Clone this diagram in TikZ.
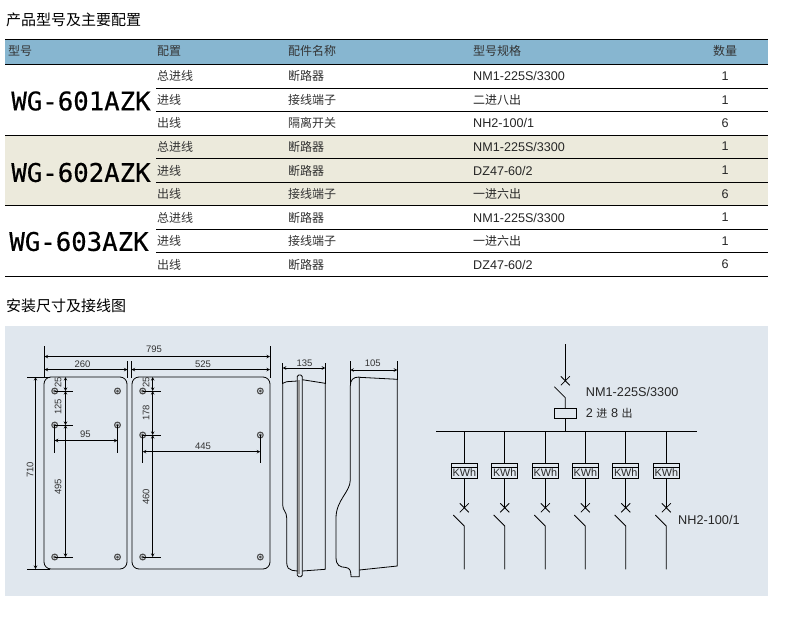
\documentclass[tikz,border=0pt]{standalone}
\usepackage{fontspec}
\setmainfont{Liberation Sans}
\newfontfamily\cjk{Noto Sans CJK SC}
\newfontfamily\modelfont[FakeBold=0.5]{DejaVu Sans Mono}
\usepackage{tikz}
\usetikzlibrary{calc}
\definecolor{headblue}{RGB}{135,182,208}
\definecolor{rowtan}{RGB}{236,234,220}
\definecolor{panelgrey}{RGB}{224,231,238}
\tikzset{
    cell/.style={anchor=west,inner sep=0pt,font=\cjk\fontsize{12}{14}\selectfont,text=black!80},
    spec/.style={anchor=west,inner sep=0pt,font=\fontsize{12.6}{14}\selectfont,text=black!85},
    num/.style={anchor=center,inner sep=0pt,font=\fontsize{12.6}{14}\selectfont,text=black!85},
    title/.style={anchor=west,inner sep=0pt,font=\cjk\fontsize{15}{17}\selectfont},
    model/.style={anchor=center,inner sep=0pt,font=\modelfont\fontsize{25.7}{28}\selectfont},
    dim/.style={inner sep=0pt,font=\fontsize{9.5}{10}\selectfont,text=black!80},
    lbl/.style={anchor=west,inner sep=0pt,font=\fontsize{12.7}{14}\selectfont,text=black!85},
    meter/.style={draw,line width=.9pt,minimum width=26pt,minimum height=15pt,inner sep=0pt},
    wire/.style={line width=.85pt},
    dimline/.style={line width=.6pt,<->,>=stealth},
    ext/.style={line width=.7pt},
    body/.style={line width=.8pt}
}
\begin{document}
\begin{tikzpicture}[x=1pt,y=-1pt]
    \useasboundingbox (0,0) rectangle (787,621);
    \fill[white] (0,0) rectangle (787,621);
    % table
    \node[title] (t1) at (6,20) {产品型号及主要配置};
    \fill[headblue] (5,40) rectangle (768,64);
    \fill[rowtan] (5,135) rectangle (768,205);
    \draw[line width=.8pt] (5,39.5) -- (768,39.5);
    \draw[line width=.8pt] (5,64) -- (768,64);
    \foreach \y in {135.3,205.3,276.3}
        \draw[line width=.8pt] (5,\y) -- (768,\y);
    \foreach \y in {88.3,111.7,158.3,182.3,229.3,252.3}
        \draw[line width=.8pt] (156,\y) -- (768,\y);
    \node[cell] (h1) at (8,51) {型号};
    \node[cell] (h2) at (157,51) {配置};
    \node[cell] (h3) at (288,51) {配件名称};
    \node[cell] (h4) at (473,51) {型号规格};
    \node[cell,anchor=center] (h5) at (725,51) {数量};
    \node[model] (m1) at (81,101) {WG-601AZK};
    \node[model] (m2) at (81,172.5) {WG-602AZK};
    \node[model] (m3) at (79,241.5) {WG-603AZK};
    \foreach \r/\y/\a/\b/\c/\n in {
        1/76/总进线/断路器/NM1-225S\slash 3300/1,
        2/100/进线/接线端子/{\cjk\fontsize{12}{14}\selectfont 二进八出}/1,
        3/123/出线/隔离开关/NH2-100\slash 1/6,
        4/146.5/总进线/断路器/NM1-225S\slash 3300/1,
        5/170.5/进线/断路器/DZ47-60\slash 2/1,
        6/194/出线/接线端子/{\cjk\fontsize{12}{14}\selectfont 一进六出}/6,
        7/217.5/总进线/断路器/NM1-225S\slash 3300/1,
        8/241/进线/接线端子/{\cjk\fontsize{12}{14}\selectfont 一进六出}/1,
        9/264.5/出线/断路器/DZ47-60\slash 2/6}{
        \node[cell] (a\r) at (157,\y) {\a};
        \node[cell] (b\r) at (288,\y) {\b};
        \node[spec] (c\r) at (473,\y) {\c};
        \node[num] (n\r) at (725,\y) {\n};
    }
    % panel
    \node[title] (t2) at (6,306) {安装尺寸及接线图};
    \fill[panelgrey] (5,326) rectangle (768,596);
    % front view
    \draw[body,rounded corners=7pt] (44,377) rectangle (127,569);
    \draw[body,rounded corners=7pt] (132,377) rectangle (270,569);
    \foreach \x/\y in {54.7/391,117.5/391,54.7/425,117.5/425,54.7/557,117.5/557,142.7/391,260.3/391,142.7/435,260.3/435,142.7/557,260.3/557}{
        \draw[black!70,line width=1.1pt] (\x,\y) circle (2.9pt);
        \fill[black!70] (\x,\y) circle (1.5pt);
    }
    \draw[ext] (44.5,346) -- (44.5,377);
    \draw[ext] (270,346) -- (270,378);
    \draw[ext] (127.5,361) -- (127.5,378);
    \draw[ext] (131.5,361) -- (131.5,378);
    \draw[dimline] (44.5,356.5) -- (270,356.5);
    \draw[dimline] (44.5,369.5) -- (127.5,369.5);
    \draw[dimline] (131.5,369.5) -- (270,369.5);
    \node[dim] (d795) at (154,349) {795};
    \node[dim] (d260) at (82.5,364) {260};
    \node[dim] (d525) at (203,364) {525};
    \draw[ext] (27,377) -- (50,377);
    \draw[ext] (27,569) -- (50,569);
    \draw[dimline] (35.5,377) -- (35.5,569);
    \node[dim,rotate=90] (d710) at (30,470) {710};
    % left box dims
    \foreach \y in {391,425,557}
        \draw[ext] (54.7,\y) -- (72.7,\y);
    \draw[ext] (54.7,425) -- (54.7,452.5);
    \draw[ext] (117.5,425) -- (117.5,452.5);
    \draw[dimline] (65.5,377) -- (65.5,391);
    \draw[dimline] (65.5,391) -- (65.5,425);
    \draw[dimline] (65.5,425) -- (65.5,557);
    \draw[dimline] (54.7,440.5) -- (117.5,440.5);
    \node[dim,rotate=90] (l25) at (58,382) {25};
    \node[dim,rotate=90] (l125) at (58,407) {125};
    \node[dim] (l95) at (85.5,434) {95};
    \node[dim,rotate=90] (l495) at (58,487) {495};
    % right box dims
    \foreach \y in {391,435,557}
        \draw[ext] (142.7,\y) -- (161,\y);
    \draw[ext] (142.7,435) -- (142.7,462.7);
    \draw[ext] (260.3,435) -- (260.3,462.7);
    \draw[dimline] (152.7,377) -- (152.7,391);
    \draw[dimline] (152.7,391) -- (152.7,435);
    \draw[dimline] (152.7,435) -- (152.7,557);
    \draw[dimline] (142.7,451.7) -- (260.3,451.7);
    \node[dim,rotate=90] (r25) at (146,382) {25};
    \node[dim,rotate=90] (r178) at (146,413) {178};
    \node[dim] (r445) at (203,446) {445};
    \node[dim,rotate=90] (r460) at (146,497) {460};
    % side views
    \draw[ext] (282.7,363) -- (282.7,384);
    \draw[ext] (325.3,363) -- (325.3,384);
    \draw[dimline] (282.7,368) -- (325.3,368);
    \node[dim] (s135) at (304.5,363.7) {135};
    \fill[black!40] (297.5,380) rectangle (299.5,574);
    \draw[body,rounded corners=1.5pt] (297.3,576.7) -- (297.3,375) -- (302.3,375) -- (302.3,576.7) -- cycle;
    \draw[body] (297.3,381) -- (286.7,381.7) -- (282.7,383.3) -- (282.7,505) .. controls (282.7,511) and (286.7,511) .. (286.7,518) -- (286.7,561) .. controls (286.7,568) and (289,570) .. (292,570.3) -- (297.3,571);
    \draw[body] (302.3,379.7) -- (325.3,383.3) -- (325.3,569.3) -- (302.3,571);
    \draw[ext] (350.3,361) -- (350.3,385);
    \draw[ext] (397.3,361) -- (397.3,380);
    \draw[dimline] (350.3,370) -- (397.3,370);
    \node[dim] (s105) at (372.7,363.3) {105};
    \draw[body] (359.3,377.3) -- (397.3,379.3) -- (397.3,566) -- (359.3,570);
    \draw[body] (359.3,377) .. controls (353,377) and (350.3,380) .. (350.3,386) -- (350.3,480) .. controls (350.3,492) and (336,500) .. (336,518) -- (336,557) .. controls (336,566) and (340,567) .. (346,567.5) .. controls (350,568) and (351,571) .. (351,576.7) -- (359.3,576.7) -- (359.3,377);
    % wiring
    \coordinate (feed) at (565.3,344.3);
    \coordinate (busl) at (436,431.3);
    \coordinate (busr) at (696.7,431.3);
    \node[draw,line width=.9pt,minimum width=22.4pt,minimum height=10pt,inner sep=0pt] (coil) at (565.5,413.3) {};
    \draw[wire] (feed) -- ($(feed)+(0,36)$);
    \draw[wire] ($(feed)+(-4.5,32)$) -- ($(feed)+(4.5,41)$) ($(feed)+(4.5,32)$) -- ($(feed)+(-4.5,41)$);
    \draw[wire] ($(feed)+(-11,42.4)$) -- ($(feed)+(0,53.4)$) -- (coil.north -| feed);
    \draw[wire] (coil.south -| feed) -- (busl -| feed);
    \draw[wire] (busl) -- (busr);
    \node[lbl] (l1) at (585.7,391.7) {NM1-225S/3300};
    \node[lbl] (l2) at (585.7,413.5) {2 {\cjk\fontsize{11}{12}\selectfont 进} 8 {\cjk\fontsize{11}{12}\selectfont 出}};
    \foreach \n/\x in {a/464.3,b/504.7,c/545.3,d/585.3,e/625.7,f/666.3}{
        \node[meter] (\n) at (\x,471) {};
        \node[inner sep=0pt,font=\fontsize{10.8}{12}\selectfont,text=black!85] (k\n) at ($(\n)+(0,2)$) {KWh};
        \draw[wire] (\n.north |- busl) -- (\n.north);
        \draw[wire] ($(\n.north west)+(0,4.4)$) -- ($(\n.north east)+(0,4.4)$);
        \draw[wire] (\n.south) -- ($(\n)+(0,36.8)$);
        \draw[wire] ($(\n)+(-4.5,32.3)$) -- ($(\n)+(4.5,41.3)$) ($(\n)+(4.5,32.3)$) -- ($(\n)+(-4.5,41.3)$);
        \draw[wire] ($(\n)+(-11,44)$) -- ($(\n)+(0,55)$) -- ($(\n)+(0,98.3)$);
    }
    \node[lbl] (l3) at (678,520) {NH2-100/1};
\end{tikzpicture}
\end{document}
